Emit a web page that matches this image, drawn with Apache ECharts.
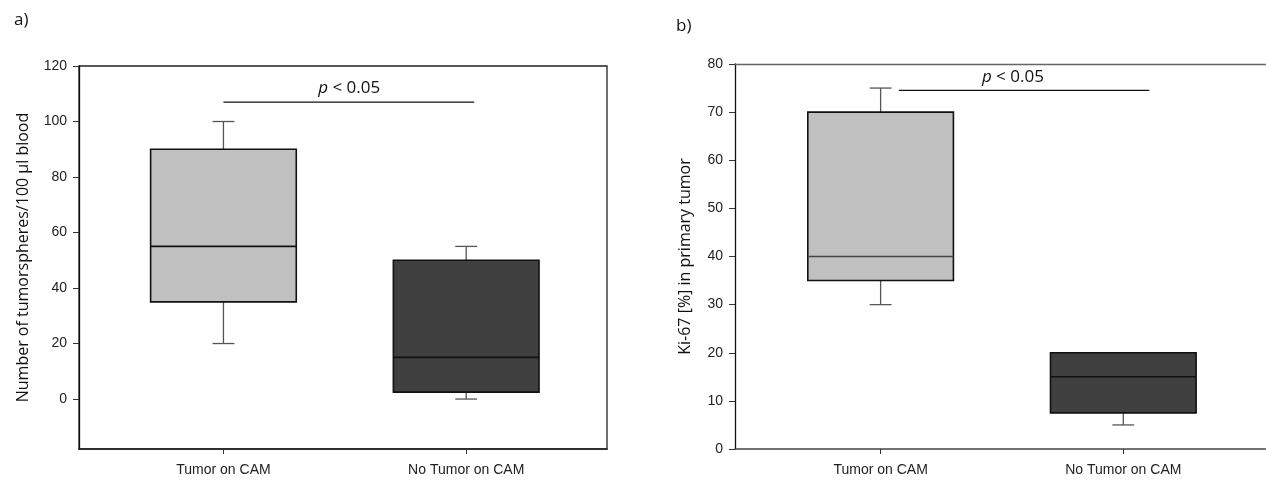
<!DOCTYPE html>
<html>
<head>
<meta charset="utf-8">
<script src="https://cdn.jsdelivr.net/npm/echarts@6/dist/echarts.min.js"></script>
<style>
html,body{margin:0;padding:0;background:#fff;}
#chart{width:1266px;height:481px;}
</style>
</head>
<body>
<div id="chart"></div>
<script>
// ---- data ----
const categories = ['Tumor on CAM', 'No Tumor on CAM'];
// [min, q1, median, q3, max]
const tumorspheresStats = [[20, 35, 55, 90, 100], [0, 2.5, 15, 50, 55]];
const ki67Stats = [[30, 35, 40, 70, 75], [5, 7.5, 15, 20, 20]];
const yTicksA = [0, 20, 40, 60, 80, 100, 120];
const yTicksB = [0, 10, 20, 30, 40, 50, 60, 70, 80];
// significance bar: [xStart, xEnd, y]
const sigA = [1, 2.033, 107];
const sigB = [1.075, 2.107, 74.5];
const sigLabelX = [1.518, 1.545];
const sigText = '< 0.05';

const fills = ['#c0c0c0', '#404040'];
const medianColors = [['#111', '#111'], ['#444', '#111']];

function boxRender(panel) {
  return function (params, api) {
    const x = api.value(0);
    const mn = api.value(1), q1 = api.value(2), md = api.value(3), q3 = api.value(4), mx = api.value(5);
    const pMin = api.coord([x, mn]), pQ1 = api.coord([x, q1]), pMd = api.coord([x, md]),
          pQ3 = api.coord([x, q3]), pMax = api.coord([x, mx]);
    const hw = api.size([0.3, 0])[0];
    const cw = api.size([0.045, 0])[0];
    const cx = pMd[0];
    const wStyle = {stroke: '#555', lineWidth: 1.3};
    const idx = params.dataIndex;
    return {
      type: 'group',
      children: [
        {type: 'line', shape: {x1: cx, y1: pQ3[1], x2: cx, y2: pMax[1]}, style: wStyle},
        {type: 'line', shape: {x1: cx - cw, y1: pMax[1], x2: cx + cw, y2: pMax[1]}, style: wStyle},
        {type: 'line', shape: {x1: cx, y1: pQ1[1], x2: cx, y2: pMin[1]}, style: wStyle},
        {type: 'line', shape: {x1: cx - cw, y1: pMin[1], x2: cx + cw, y2: pMin[1]}, style: wStyle},
        {type: 'rect', shape: {x: cx - hw, y: pQ3[1], width: 2 * hw, height: pQ1[1] - pQ3[1]},
          style: {fill: fills[idx], stroke: '#111', lineWidth: 1.6}},
        {type: 'line', shape: {x1: cx - hw, y1: pMd[1], x2: cx + hw, y2: pMd[1]},
          style: {stroke: medianColors[panel][idx], lineWidth: 1.6}}
      ]
    };
  };
}

function sigRender(params, api) {
  const p1 = api.coord([api.value(0), api.value(2)]);
  const p2 = api.coord([api.value(1), api.value(2)]);
  const pt = api.coord([api.value(3), api.value(2)]);
  return {
    type: 'group',
    children: [
      {type: 'line', shape: {x1: p1[0], y1: p1[1], x2: p2[0], y2: p2[1]}, style: {stroke: '#111', lineWidth: 1.3}},
      {type: 'text', x: pt[0], y: p1[1] - 5,
        style: {
          text: '{i|p} ' + sigText,
          align: 'center', verticalAlign: 'bottom',
          font: '17px "Open Sans"', fill: '#111',
          rich: {i: {fontStyle: 'italic', fontFamily: 'Open Sans', fontSize: 17, fill: '#111'}}
        }}
    ]
  };
}

const tickFont = {fontFamily: 'Liberation Sans', fontSize: 14, color: '#222'};

function xAxisFor(gridIndex, min, max, lineColor) {
  return {
    type: 'value', gridIndex: gridIndex, min: min, max: max,
    splitLine: {show: false},
    axisLine: {show: true, onZero: false, lineStyle: {color: lineColor, width: 1.5}},
    axisTick: {show: true, customValues: [1, 2], inside: false, length: 5, lineStyle: {color: '#333'}},
    axisLabel: Object.assign({customValues: [1, 2], margin: 14,
      formatter: v => categories[Math.round(v) - 1] || ''}, tickFont)
  };
}

const chart = echarts.init(document.getElementById('chart'), null, {renderer: 'canvas'});
chart.setOption({
  backgroundColor: '#fff',
  animation: false,
  title: [
    {text: 'a)', left: 9, top: 7, textStyle: {fontFamily: 'Open Sans', fontWeight: 'normal', fontSize: 17, color: '#111'}},
    {text: 'b)', left: 671, top: 13, textStyle: {fontFamily: 'Open Sans', fontWeight: 'normal', fontSize: 17, color: '#111'}}
  ],
  grid: [
    {left: 79, top: 66, width: 528, height: 383, show: true, borderColor: '#222', borderWidth: 1.3, backgroundColor: 'transparent'},
    {left: 735, top: 64, width: 531, height: 385, show: false}
  ],
  xAxis: [
    xAxisFor(0, 0.405, 2.58, '#222'),
    xAxisFor(1, 0.4, 2.588, '#444'),
    {type: 'value', gridIndex: 1, position: 'top', min: 0.4, max: 2.588,
      splitLine: {show: false}, axisTick: {show: false}, axisLabel: {show: false},
      axisLine: {show: true, onZero: false, lineStyle: {color: '#666', width: 1.3}}}
  ],
  yAxis: [
    {type: 'value', gridIndex: 0, min: -18, max: 120,
      splitLine: {show: false},
      axisLine: {show: true, lineStyle: {color: '#111', width: 1.3}},
      axisTick: {show: true, customValues: yTicksA, length: 6, lineStyle: {color: '#333'}},
      axisLabel: Object.assign({customValues: yTicksA, margin: 12}, tickFont),
      name: 'Number of tumorspheres/100 µl blood', nameLocation: 'middle', nameGap: 48,
      nameTextStyle: {fontFamily: 'Open Sans', fontSize: 16, color: '#111'}},
    {type: 'value', gridIndex: 1, min: 0, max: 80, interval: 10,
      splitLine: {show: false},
      axisLine: {show: true, lineStyle: {color: '#111', width: 1.3}},
      axisTick: {show: true, customValues: yTicksB, length: 6, lineStyle: {color: '#333'}},
      axisLabel: Object.assign({customValues: yTicksB, margin: 12}, tickFont),
      name: 'Ki-67 [%] in primary tumor', nameLocation: 'middle', nameGap: 42,
      nameTextStyle: {fontFamily: 'Open Sans', fontSize: 16, color: '#111'}}
  ],
  series: [
    {type: 'custom', xAxisIndex: 0, yAxisIndex: 0, renderItem: boxRender(0),
      data: tumorspheresStats.map((s, i) => [i + 1].concat(s))},
    {type: 'custom', xAxisIndex: 1, yAxisIndex: 1, renderItem: boxRender(1),
      data: ki67Stats.map((s, i) => [i + 1].concat(s))},
    {type: 'custom', xAxisIndex: 0, yAxisIndex: 0, renderItem: sigRender,
      data: [sigA.concat([sigLabelX[0]])]},
    {type: 'custom', xAxisIndex: 1, yAxisIndex: 1, renderItem: sigRender,
      data: [sigB.concat([sigLabelX[1]])]}
  ]
});
</script>
</body>
</html>
